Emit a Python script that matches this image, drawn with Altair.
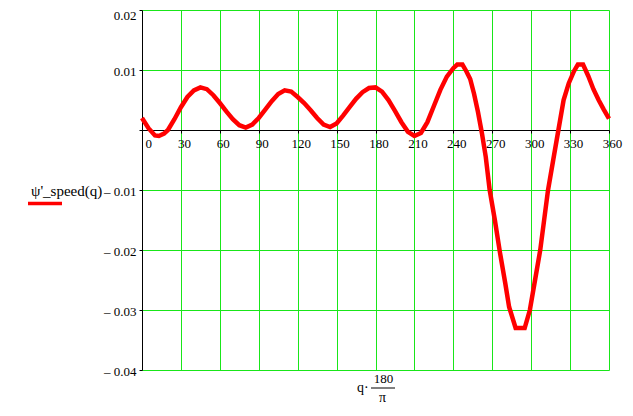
import altair as alt
import pandas as pd

# curve samples: angle (deg) and psi'_speed value
deg = [0, 5, 10, 13, 17, 20, 25, 30, 35, 40, 45, 50, 55, 60, 65, 70, 75, 80, 85, 90,
       95, 100, 105, 110, 115, 120, 125, 130, 135, 140, 145, 150, 155, 160, 165, 170,
       175, 180, 185, 190, 195, 200, 205, 210, 215, 220, 225, 230, 235, 240, 243, 247,
       250, 253, 256, 259, 262, 265, 268, 272, 276, 280, 283, 288, 295, 299, 303, 307,
       310, 313, 317, 321, 325, 329, 333, 336, 340, 344, 348, 352, 356, 360]
val = [0.0020, 0.0003, -0.0009, -0.0010, -0.0006, 0.0000, 0.0018, 0.0038, 0.0055, 0.0066,
       0.0071, 0.0068, 0.0058, 0.0045, 0.0031, 0.0018, 0.0008, 0.0004, 0.0009, 0.0020,
       0.0034, 0.0048, 0.0060, 0.0066, 0.0064, 0.0055, 0.0045, 0.0033, 0.0020, 0.0009,
       0.0005, 0.0011, 0.0024, 0.0038, 0.0052, 0.0063, 0.0070, 0.0071, 0.0064, 0.0050,
       0.0032, 0.0013, -0.0003, -0.0010, -0.0005, 0.0013, 0.0040, 0.0067, 0.0089, 0.0103,
       0.0109, 0.0109, 0.0098, 0.0085, 0.0060, 0.0030, -0.0005, -0.0045, -0.0100, -0.0150,
       -0.0205, -0.0255, -0.0295, -0.0330, -0.0330, -0.0300, -0.0250, -0.0200, -0.0150,
       -0.0100, -0.0050, 0.0000, 0.0050, 0.0078, 0.0098, 0.0109, 0.0109, 0.0090, 0.0068,
       0.0050, 0.0034, 0.0019]

x_ticks = [0, 30, 60, 90, 120, 150, 180, 210, 240, 270, 300, 330, 360]
y_ticks = [0.02, 0.01, 0.0, -0.01, -0.02, -0.03, -0.04]

legend_label = "ψ'_speed(q)"
x_title_left = "q·"
x_title_num = "180"
x_title_den = "π"

df = pd.DataFrame({"deg": deg, "v": val})

GREEN = "#19e619"
FONT = "Liberation Serif"

x_axis = alt.Axis(
    values=x_ticks, title=None, offset=-240, grid=True, gridColor=GREEN,
    gridOpacity=1, gridWidth=1, domainColor="black", domainWidth=1,
    tickColor="black", tickSize=3, labelFont=FONT, labelFontSize=13,
    labelColor="black", labelPadding=4, labelOffset=3,
    labelAlign={"condition": {"test": "datum.value === 0", "value": "left"}, "value": "center"},
    labelFlush=False, labelOverlap=False,
)
y_axis = alt.Axis(
    values=y_ticks, title=None, grid=True, gridColor=GREEN, gridOpacity=1,
    gridWidth=1, domainColor="black", domainWidth=1, tickColor="black",
    tickSize=3, labelFont=FONT, labelFontSize=13, labelColor="black",
    labelPadding=3, labelFlush=False, labelOverlap=False,
    labelOffset={"condition": {"test": "datum.value > 0.015", "value": 5}, "value": 1},
    labelExpr="datum.value < -0.0001 ? '– ' + format(-datum.value, '.2f') : (datum.value > 0.0001 ? format(datum.value, '.2f') : '')",
)

curve = alt.Chart(df).mark_line(color="#ff0000", strokeWidth=4.5).encode(
    x=alt.X("deg:Q", scale=alt.Scale(domain=[0, 360], nice=False, zero=False), axis=x_axis),
    y=alt.Y("v:Q", scale=alt.Scale(domain=[-0.04, 0.02], nice=False, zero=False), axis=y_axis),
    order="deg:Q",
)

one = alt.Data(values=[{}])

leg_text = alt.Chart(one).mark_text(
    text=legend_label, font=FONT, fontSize=15, align="left", baseline="alphabetic", color="black"
).encode(x=alt.value(-111), y=alt.value(186))

leg_line = alt.Chart(one).mark_rule(color="#ff0000", strokeWidth=3.5).encode(
    x=alt.value(-114), x2=alt.value(-80), y=alt.value(193.5)
)

xt_q = alt.Chart(one).mark_text(
    text=x_title_left, font=FONT, fontSize=14, align="left", baseline="alphabetic", color="black"
).encode(x=alt.value(215), y=alt.value(382))

xt_num = alt.Chart(one).mark_text(
    text=x_title_num, font=FONT, fontSize=13, align="center", baseline="alphabetic", color="black"
).encode(x=alt.value(241.5), y=alt.value(373))

xt_bar = alt.Chart(one).mark_rule(color="black", strokeWidth=1).encode(
    x=alt.value(229), x2=alt.value(253), y=alt.value(378)
)

xt_den = alt.Chart(one).mark_text(
    text=x_title_den, font=FONT, fontSize=14, align="center", baseline="alphabetic", color="black"
).encode(x=alt.value(240.5), y=alt.value(392))

chart = alt.layer(curve, leg_text, leg_line, xt_q, xt_num, xt_bar, xt_den).properties(
    width=467, height=360,
    autosize=alt.AutoSizeParams(type="none"),
    padding={"left": 134, "top": 2, "right": 16, "bottom": 34},
).configure_view(stroke=None)

chart.save("out.html", embed_options={"renderer": "svg", "actions": False})
